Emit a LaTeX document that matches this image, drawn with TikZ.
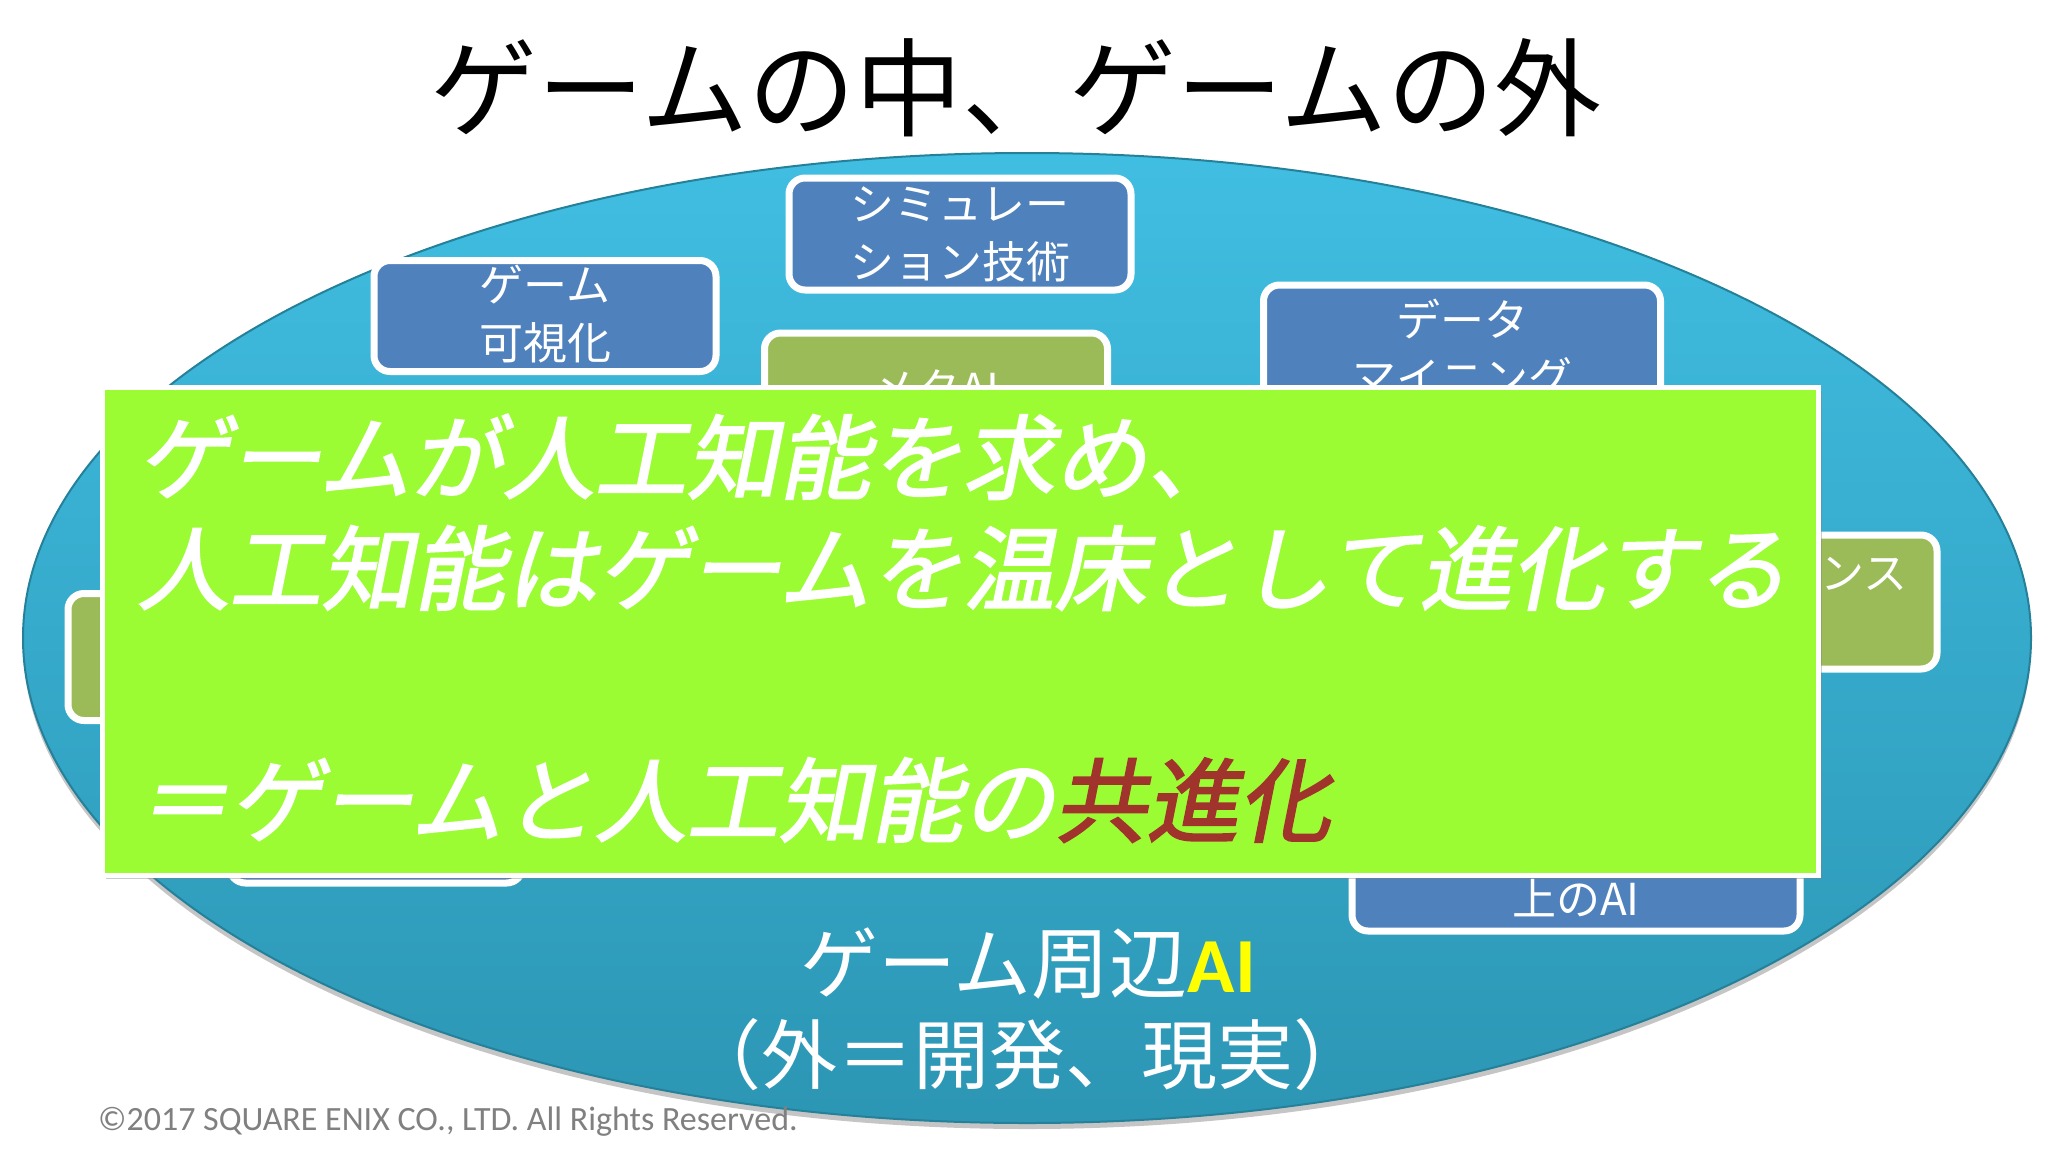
\documentclass[tikz,border=0pt]{standalone}
\usepackage{fontspec}
\usetikzlibrary{shapes.geometric,shadows}
\newfontfamily\jp{Noto Sans CJK JP}
\newfontfamily\jpi[FakeSlant=0.2,FakeBold=2]{Noto Sans CJK JP}
\newfontfamily\calfont{Carlito}
\definecolor{ellTop}{RGB}{64,190,226}
\definecolor{ellBot}{RGB}{44,150,180}
\definecolor{boxblue}{RGB}{79,129,189}
\definecolor{boxgreen}{RGB}{155,187,89}
\definecolor{lime}{RGB}{156,252,52}
\definecolor{cored}{RGB}{160,52,45}
\definecolor{aiyellow}{RGB}{255,255,0}
\tikzset{
  topic/.style={rectangle, rounded corners=16pt, draw=white, line width=7pt,
    inner sep=0pt, drop shadow={opacity=0.35, shadow xshift=2pt, shadow yshift=-3pt}},
  bluetopic/.style={topic, fill=boxblue},
  greentopic/.style={topic, fill=boxgreen},
  topictext/.style={text=white, font=\jp\fontsize{44}{58}\selectfont, align=center, inner sep=0pt},
  msg/.style={anchor=base west, inner sep=0pt, text=white, font=\jpi\fontsize{92}{110}\selectfont},
}
\begin{document}
\begin{tikzpicture}[x=1pt,y=-1pt]
\useasboundingbox[fill=white] (0,0) rectangle (2048,1152);

% title
\node[font=\jp\fontsize{107}{120}\selectfont, inner sep=0pt] (title) at (1016,88) {ゲームの中、ゲームの外};

% big ellipse
\node[ellipse, minimum width=2008pt, minimum height=970pt, inner sep=0pt,
  top color=ellTop, bottom color=ellBot, draw=ellBot!85!black, line width=2pt,
  drop shadow={opacity=0.45, shadow xshift=0pt, shadow yshift=-6pt}] (ell) at (1027,638) {};

% topic boxes
\node[bluetopic, minimum width=342pt, minimum height=112pt,
  path picture={\node[topictext] at (path picture bounding box.center) {シミュレー\\ション技術};}] (sim) at (960,234) {};
\node[bluetopic, minimum width=342pt, minimum height=111pt,
  path picture={\node[topictext] at ([yshift=2pt]path picture bounding box.center) {ゲーム\\可視化};}] (vis) at (545,316) {};
\node[bluetopic, minimum width=397pt, minimum height=120pt,
  path picture={\node[topictext] at ([yshift=-3pt]path picture bounding box.center) {データ\\マイニング};}] (dm) at (1462,345) {};
\node[greentopic, minimum width=343pt, minimum height=112pt,
  path picture={\node[topictext] at (path picture bounding box.center) {メタAI};}] (meta) at (936,389) {};
\node[greentopic, minimum width=330pt, minimum height=134pt] (rgreen) at (1772,602) {};
\node[topictext, anchor=west] (rtext) at (1820,574) {ンス};
\node[greentopic, minimum width=330pt, minimum height=127pt] (lgreen) at (233,657) {};
\node[bluetopic, minimum width=293pt, minimum height=110pt] (lblue) at (376,828) {};
\node[bluetopic, minimum width=448pt, minimum height=120pt,
  path picture={\node[topictext] at ([yshift=-27pt]path picture bounding box.center) {上のAI};}] (rblue) at (1576,871) {};

% main message panel
\node[rectangle, fill=lime, draw=white, line width=5pt, minimum width=1716pt, minimum height=488pt,
  inner sep=0pt, drop shadow={opacity=0.4, shadow xshift=4pt, shadow yshift=-4pt}] (panel) at (960,631) {};
\node[msg] (l1) at (137,492) {ゲームが人工知能を求め、};
\node[msg] (l2) at (137,603) {人工知能はゲームを温床として進化する};
\node[msg] (l3) at (137,835) {＝ゲームと人工知能の\textcolor{cored}{共進化}};

% bottom labels
\node[text=white, inner sep=0pt, font=\jp\fontsize{78}{90}\selectfont] (outer1) at (1028,963) {ゲーム周辺{\calfont\bfseries\textcolor{aiyellow}{AI}}};
\node[text=white, inner sep=0pt, font=\jp\fontsize{76}{90}\selectfont] (outer2) at (1027,1055) {（外＝開発、現実）};

% copyright
\node[anchor=west, inner sep=0pt, text=black!50, font=\calfont\fontsize{34}{40}\selectfont] (copy) at (98,1122) {©2017 SQUARE ENIX CO., LTD. All Rights Reserved.};
\end{tikzpicture}
\end{document}
